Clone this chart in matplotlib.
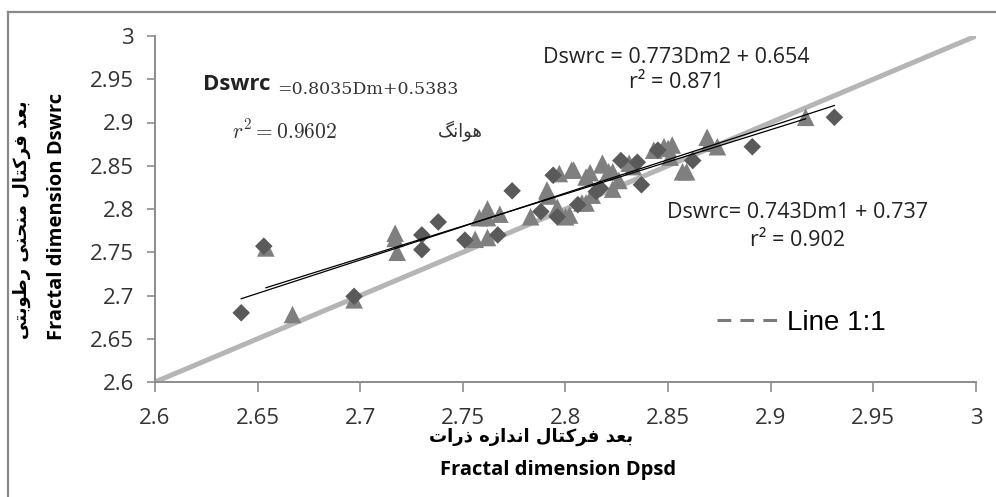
import matplotlib
matplotlib.use('Agg')
import matplotlib.pyplot as plt
from matplotlib.lines import Line2D
from matplotlib.ticker import FuncFormatter
import numpy as np

plt.rcParams['font.family'] = ['Open Sans', 'DejaVu Sans']
plt.rcParams['mathtext.fontset'] = 'cm'

# داده‌ها (خوانده شده از شکل)
diamond_x = [2.642, 2.653, 2.697, 2.730, 2.730, 2.738, 2.751, 2.767, 2.774, 2.788,
             2.796, 2.794, 2.806, 2.815, 2.817, 2.827, 2.835, 2.837, 2.845, 2.862,
             2.891, 2.931]
diamond_y = [2.680, 2.757, 2.699, 2.770, 2.753, 2.785, 2.764, 2.770, 2.821, 2.797,
             2.791, 2.839, 2.805, 2.820, 2.824, 2.856, 2.854, 2.828, 2.868, 2.856,
             2.872, 2.906]

tri_x = [2.654, 2.667, 2.697, 2.717, 2.717, 2.718, 2.756, 2.758, 2.762, 2.762,
         2.762, 2.768, 2.783, 2.791, 2.791, 2.792, 2.796, 2.797, 2.800, 2.802,
         2.803, 2.804, 2.808, 2.810, 2.810, 2.812, 2.813, 2.818, 2.818, 2.821,
         2.823, 2.823, 2.826, 2.831, 2.833, 2.843, 2.848, 2.850, 2.851, 2.852,
         2.857, 2.859, 2.869, 2.870, 2.874, 2.917]
tri_y = [2.755, 2.678, 2.695, 2.772, 2.766, 2.750, 2.765, 2.790, 2.800, 2.790,
         2.767, 2.794, 2.791, 2.820, 2.822, 2.815, 2.802, 2.841, 2.791, 2.793,
         2.845, 2.845, 2.807, 2.837, 2.807, 2.842, 2.816, 2.851, 2.853, 2.843,
         2.843, 2.823, 2.833, 2.853, 2.849, 2.868, 2.872, 2.870, 2.860, 2.874,
         2.843, 2.843, 2.883, 2.876, 2.872, 2.906]

# خطوط رگرسیون: شیب و عرض از مبدا
fit1 = (0.743, 0.737)   # Dm1 (مثلث)
fit2 = (0.773, 0.654)   # Dm2 (لوزی)
ticks = [2.6, 2.65, 2.7, 2.75, 2.8, 2.85, 2.9, 2.95, 3.0]


# شکل‌دهی ساده حروف فارسی برای matplotlib (بدون پشتیبانی RTL)
FORMS = {
    'ا': (0xFE8D, 0xFE8E, None, None), 'ب': (0xFE8F, 0xFE90, 0xFE91, 0xFE92),
    'ت': (0xFE95, 0xFE96, 0xFE97, 0xFE98), 'ح': (0xFEA1, 0xFEA2, 0xFEA3, 0xFEA4),
    'د': (0xFEA9, 0xFEAA, None, None), 'ذ': (0xFEAB, 0xFEAC, None, None),
    'ر': (0xFEAD, 0xFEAE, None, None), 'ز': (0xFEAF, 0xFEB0, None, None),
    'ط': (0xFEC1, 0xFEC2, 0xFEC3, 0xFEC4), 'ع': (0xFEC9, 0xFECA, 0xFECB, 0xFECC),
    'ف': (0xFED1, 0xFED2, 0xFED3, 0xFED4), 'ل': (0xFEDD, 0xFEDE, 0xFEDF, 0xFEE0),
    'م': (0xFEE1, 0xFEE2, 0xFEE3, 0xFEE4), 'ن': (0xFEE5, 0xFEE6, 0xFEE7, 0xFEE8),
    'ه': (0xFEE9, 0xFEEA, 0xFEEB, 0xFEEC), 'و': (0xFEED, 0xFEEE, None, None),
    'ک': (0xFB8E, 0xFB8F, 0xFB90, 0xFB91), 'گ': (0xFB92, 0xFB93, 0xFB94, 0xFB95),
    'ی': (0xFBFC, 0xFBFD, 0xFBFE, 0xFBFF),
}


def fa(s):
    out = []
    for i, ch in enumerate(s):
        if ch not in FORMS:
            out.append(ch)
            continue
        prev = s[i - 1] if i > 0 else ''
        nxt = s[i + 1] if i + 1 < len(s) else ''
        jp = prev in FORMS and FORMS[prev][2] is not None
        jn = FORMS[ch][2] is not None and nxt in FORMS
        iso, fin, ini, med = FORMS[ch]
        if jp and jn:
            c = med
        elif jp:
            c = fin
        elif jn:
            c = ini
        else:
            c = iso
        out.append(chr(c))
    return ''.join(out)[::-1]


fig = plt.figure(figsize=(9.96, 4.97), dpi=100, facecolor='white')
ax = fig.add_axes([155 / 996, 1 - 382 / 497, 821 / 996, 346 / 497])

# قاب بیرونی
fig.add_artist(Line2D([8 / 996, 8 / 996], [0, 1 - 12 / 497], color='#8a8a8a', lw=1.6))
fig.add_artist(Line2D([8 / 996, 1], [1 - 12 / 497, 1 - 12 / 497], color='#8a8a8a', lw=1.6))

ax.plot([ticks[0], ticks[-1]], [ticks[0], ticks[-1]], color='#b5b5b5', lw=3.6,
        solid_capstyle='butt', zorder=1)
ax.scatter(tri_x, tri_y, marker='^', s=160, color='#7f7f7f', edgecolors='none', zorder=2)
ax.scatter(diamond_x, diamond_y, marker='D', s=80, color='#5a5a5a', edgecolors='none', zorder=3)

for (m, b), xs in ((fit1, tri_x), (fit2, diamond_x)):
    xx = np.array([min(xs), max(xs)])
    ax.plot(xx, m * xx + b, color='black', lw=0.9, zorder=4)

ax.set_xlim(2.6, 3.0)
ax.set_ylim(2.6, 3.0)
ax.set_xticks(ticks)
ax.set_yticks(ticks)
fmt = FuncFormatter(lambda v, p: f'{round(v, 2):g}')
ax.xaxis.set_major_formatter(fmt)
ax.yaxis.set_major_formatter(fmt)
for s in ('top', 'right'):
    ax.spines[s].set_visible(False)
for s in ('left', 'bottom'):
    ax.spines[s].set_color('#8c8c8c')
    ax.spines[s].set_linewidth(1.4)
ax.tick_params(axis='x', direction='out', length=7, width=1.2, color='#8c8c8c',
               labelsize=16, labelcolor='#333333', pad=12)
ax.tick_params(axis='y', direction='out', length=6, width=1.2, color='#8c8c8c',
               labelsize=16, labelcolor='#333333', pad=9)

# برچسب محورها
fig.text(531 / 996, 1 - 437 / 497, fa('بعد فرکتال اندازه ذرات'), ha='center', va='center',
         fontsize=13, fontweight='bold', family='DejaVu Sans')
fig.text(558 / 996, 1 - 470 / 497, 'Fractal dimension Dpsd', ha='center', va='center',
         fontsize=14.5, fontweight='bold')
fig.text(22 / 996, 1 - 220 / 497, fa('بعد فرکتال منحنی رطوبتی'), ha='center', va='center',
         rotation=90, fontsize=13, fontweight='bold', family='DejaVu Sans')
fig.text(57 / 996, 1 - 216 / 497, 'Fractal dimension Dswrc', ha='center', va='center',
         rotation=90, fontsize=14.5, fontweight='bold')

# معادلات
ax.text(2.6234, 2.9434, 'Dswrc', ha='left', va='center', fontsize=16, fontweight='bold',
        color='#222222')
ax.text(2.6594, 2.9387, '=0.8035Dm+0.5383', ha='left', va='center', fontsize=12.5,
        family='DejaVu Serif', color='#333333')
ax.text(2.6375, 2.889, r'$r^2 = 0.9602$', ha='left', va='center', fontsize=15.5, color='#333333')
ax.text(2.749, 2.891, fa('هوانگ'), ha='center', va='center', fontsize=13,
        family='DejaVu Sans', color='#333333')
ax.text(2.789, 2.9757, 'Dswrc = 0.773Dm2 + 0.654', ha='left', va='center', fontsize=15.5,
        color='#222222')
ax.text(2.854, 2.9457, 'r² = 0.871', ha='center', va='center', fontsize=15.5, color='#222222')
ax.text(2.8495, 2.7965, 'Dswrc= 0.743Dm1 + 0.737', ha='left', va='center', fontsize=15.5,
        color='#222222')
ax.text(2.9128, 2.764, 'r² = 0.902', ha='center', va='center', fontsize=15.5, color='#222222')

# راهنما
h = Line2D([], [], color='#7a7a7a', lw=2.2, ls=(0, (4.5, 3.0)))
ax.legend([h], ['Line 1:1'], loc='center left', bbox_to_anchor=(0.685, 0.171),
          frameon=False, handlelength=2.2, handletextpad=0.3, borderpad=0,
          borderaxespad=0, prop={'family': 'Liberation Sans', 'size': 20})

fig.savefig('out.png', dpi=100, facecolor='white')
